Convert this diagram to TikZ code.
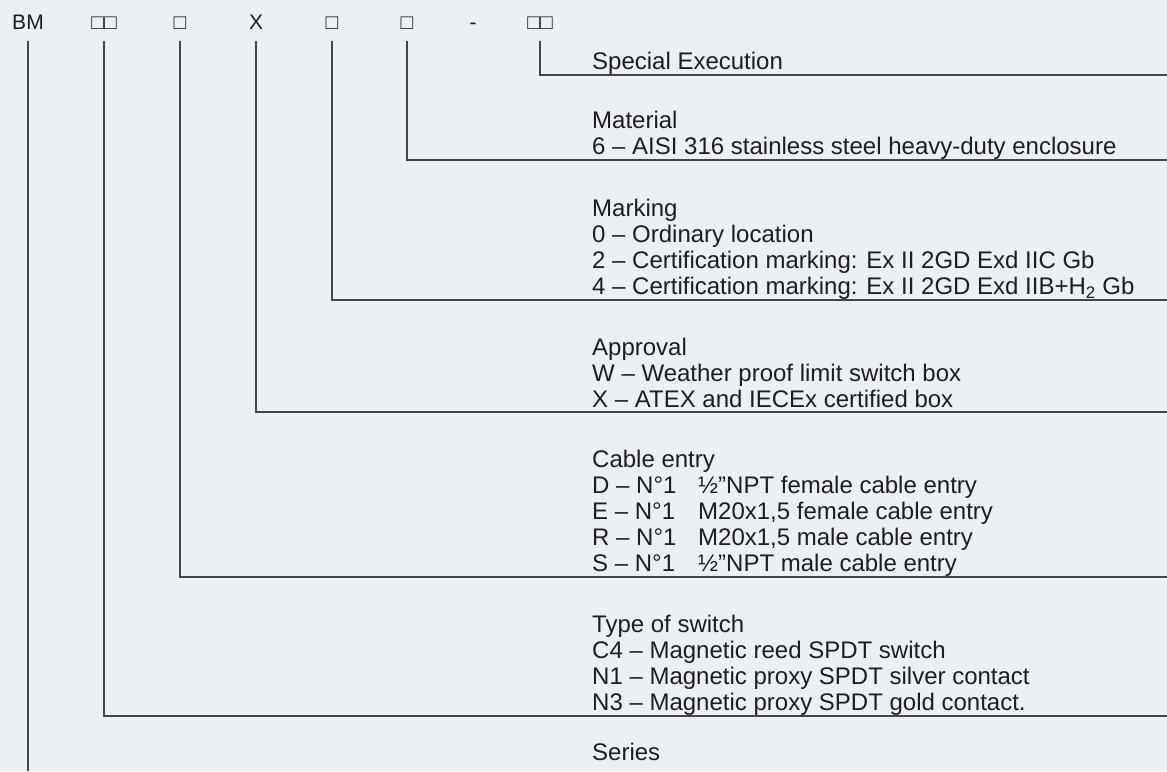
\documentclass[tikz,border=0pt]{standalone}
\usepackage{fontspec}
\setmainfont{Liberation Sans}
\definecolor{bg}{RGB}{236,240,245}
\definecolor{ink}{RGB}{30,30,30}
\definecolor{rule}{RGB}{70,70,70}
\newcommand{\colA}[1]{\makebox[106pt][l]{#1}}
\begin{document}
\begin{tikzpicture}[x=1pt,y=-1pt,
  hdr/.style={font=\fontsize{21}{21}\selectfont, text=ink, inner sep=0pt, anchor=base},
  item/.style={font=\fontsize{24}{27}\selectfont, text=ink, inner sep=0pt, anchor=base west},
  conn/.style={draw=rule, line width=1.3pt}]
\fill[bg] (0,0) rectangle (1167,771);
\useasboundingbox (0,0) rectangle (1167,771);

% header code
\node[hdr] (hBM)   at (28,29.3)  {BM};
\node[hdr] (hSw)   at (104,29.3) {□□};
\node[hdr] (hCab)  at (180,29.3) {□};
\node[hdr] (hApp)  at (256,29.3) {X};
\node[hdr] (hMark) at (332,29.3) {□};
\node[hdr] (hMat)  at (407,29.3) {□};
\node[hdr] (hDash) at (473,29.3) {-};
\node[hdr] (hSpec) at (540,29.3) {□□};

\coordinate (top) at (0,41);
\coordinate (bot) at (0,771);
\coordinate (eSpec) at (1167,75);
\coordinate (eMat)  at (1167,160);
\coordinate (eMark) at (1167,300);
\coordinate (eApp)  at (1167,412);
\coordinate (eCab)  at (1167,577);
\coordinate (eSw)   at (1167,716);

% connectors
\draw[conn] (hSpec |- top) |- (eSpec);
\draw[conn] (hMat |- top) |- (eMat);
\draw[conn] (hMark |- top) |- (eMark);
\draw[conn] (hApp |- top) |- (eApp);
\draw[conn] (hCab |- top) |- (eCab);
\draw[conn] (hSw |- top) |- (eSw);
\draw[conn] (hBM |- top) -- (hBM |- bot);

% texts
\node[item] (se)  at (592,69) {Special Execution};

\node[item] (ma0) at (592,128.5) {Material};
\node[item] (ma1) at (592,154.5) {6 – AISI 316 stainless steel heavy-duty enclosure};

\node[item] (mk0) at (592,216.5) {Marking};
\node[item] (mk1) at (592,242.5) {0 – Ordinary location};
\node[item] (mk2) at (592,268.5) {2 – Certification marking: Ex II 2GD Exd IIC Gb};
\node[item] (mk3) at (592,294.5) {4 – Certification marking: Ex II 2GD Exd IIB+H\textsubscript{2} Gb};

\node[item] (ap0) at (592,355) {Approval};
\node[item] (ap1) at (592,381) {W – Weather proof limit switch box};
\node[item] (ap2) at (592,407) {X – ATEX and IECEx certified box};

\node[item] (ce0) at (592,467) {Cable entry};
\node[item] (ce1) at (592,493) {\colA{D – N°1}½”NPT female cable entry};
\node[item] (ce2) at (592,519) {\colA{E – N°1}M20x1,5 female cable entry};
\node[item] (ce3) at (592,545) {\colA{R – N°1}M20x1,5 male cable entry};
\node[item] (ce4) at (592,571) {\colA{S – N°1}½”NPT male cable entry};

\node[item] (sw0) at (592,632) {Type of switch};
\node[item] (sw1) at (592,658) {C4 – Magnetic reed SPDT switch};
\node[item] (sw2) at (592,684) {N1 – Magnetic proxy SPDT silver contact};
\node[item] (sw3) at (592,710) {N3 – Magnetic proxy SPDT gold contact.};

\node[item] (sr0) at (592,760) {Series};
\end{tikzpicture}
\end{document}
